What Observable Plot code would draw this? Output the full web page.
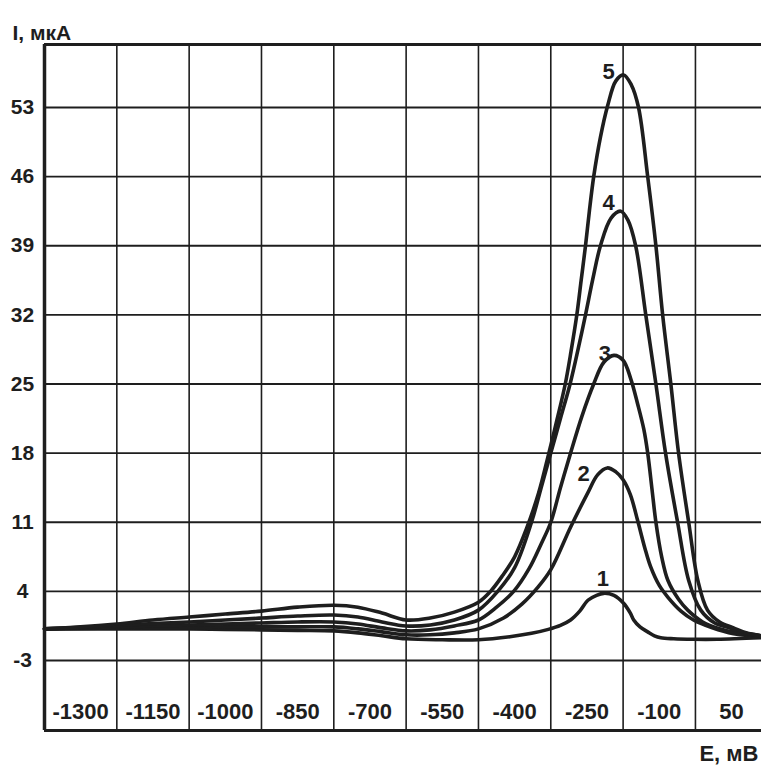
<!DOCTYPE html>
<html><head><meta charset="utf-8">
<script src="https://cdn.jsdelivr.net/npm/d3@7"></script>
<script src="https://cdn.jsdelivr.net/npm/@observablehq/plot@0.6"></script>
<style>body{margin:0;background:#fff}</style>
</head><body><div id="chart"></div>
<script>
// Tick labels / grid
const yTicks = [-3, 4, 11, 18, 25, 32, 39, 46, 53];
const xTickLabels = [-1300, -1150, -1000, -850, -700, -550, -400, -250, -100, 50];
const xGrid = [-1225, -1075, -925, -775, -625, -475, -325, -175, -25];

// Curve 1
const e1 = [-1375,-1300,-1225,-1150,-1075,-1000,-925,-850,-775,-725,-675,-625,-550,-475,-410,-365,-330,-305,-284,-265,-248,-230,-215,-194,-174,-160,-153,-140,-124,-110,-97,-70,-30,20,112];
const i1 = [0.2,0.2,0.2,0.2,0.2,0.15,0.1,0.05,0.0,-0.2,-0.5,-0.8,-0.9,-0.9,-0.6,-0.25,0.15,0.55,1.1,2.0,3.1,3.6,3.8,3.6,2.8,1.8,1.1,0.4,-0.1,-0.5,-0.7,-0.8,-0.85,-0.85,-0.7];
// Curve 2
const e2 = [-1375,-1300,-1225,-1150,-1075,-1000,-925,-850,-775,-725,-675,-625,-575,-525,-475,-423,-385,-352,-325,-284,-248,-228,-208,-190,-175,-160,-145,-130,-118,-100,-82,-55,-29,10,54,112];
const i2 = [0.2,0.25,0.3,0.35,0.35,0.4,0.4,0.4,0.4,0.2,-0.1,-0.4,-0.4,-0.2,0.2,1.3,2.7,4.4,6.2,10.5,14,15.8,16.5,16.1,15.3,13.8,11.2,8.4,6.5,4.6,3.4,2.0,1.1,0.3,-0.3,-0.6];
// Curve 3
const e3 = [-1375,-1300,-1225,-1150,-1075,-1000,-925,-850,-775,-725,-675,-625,-575,-525,-475,-440,-402,-370,-345,-325,-305,-284,-260,-236,-215,-194,-175,-159,-145,-132,-124,-115,-107,-95,-82,-60,-41,-10,21,60,112];
const i3 = [0.2,0.3,0.4,0.5,0.6,0.7,0.8,0.9,0.9,0.7,0.3,0.0,0.1,0.5,1.1,2.3,4.0,6.3,8.8,11,14.5,18,21.8,25,27.2,27.9,27.4,25.5,23,20.4,18,14.3,11,7.5,5.1,3.2,2.1,0.9,0.26,-0.2,-0.5];
// Curve 4
const e4 = [-1375,-1300,-1225,-1150,-1075,-1000,-925,-850,-775,-725,-675,-625,-575,-525,-475,-435,-400,-365,-345,-325,-305,-285,-268,-253,-238,-222,-200,-180,-165,-149,-128,-107,-87,-62,-39,-14,15,42,75,112];
const i4 = [0.2,0.35,0.55,0.75,0.9,1.1,1.3,1.5,1.6,1.4,0.9,0.5,0.6,1.1,2.1,4.0,6.4,11,14.5,18,21.5,25,28.6,32,35.6,39,41.8,42.5,41.6,39,32,25,18,11,5.1,2.1,0.8,0.36,-0.2,-0.5];
// Curve 5
const e5 = [-1375,-1300,-1225,-1150,-1075,-1000,-925,-850,-775,-725,-675,-625,-575,-525,-475,-450,-425,-400,-375,-350,-329,-312,-295,-283,-271,-262,-253,-245,-236,-222,-207,-190,-174,-158,-143,-124,-107,-93,-76,-60,-39,-20,0,25,54,80,112];
const i5 = [0.2,0.4,0.7,1.1,1.4,1.7,2.0,2.4,2.6,2.4,1.8,1.1,1.3,1.9,2.9,4.0,5.6,7.5,10.4,14.0,18,21.4,25,28.3,32,35.5,39,42.5,46,50,53.2,55.7,56.3,55.3,53,46,39,32,25,18,11,5.1,2.1,0.9,0.3,-0.2,-0.5];

// Curve number labels
const labelText = ["1", "2", "3", "4", "5"];
const labelE = [-217, -257, -213, -205, -205];
const labelI = [5.3, 15.9, 28.0, 43.3, 56.65];

const series = [[e1, i1, 1], [e2, i2, 2], [e3, i3, 3], [e4, i4, 4], [e5, i5, 5]];
const data = series.flatMap(([e, i, id]) => e.map((v, k) => ({curve: id, E: v, I: i[k]})));
const labels = labelText.map((t, k) => ({t, E: labelE[k], I: labelI[k]}));

const ink = "#1e1e1e";
const font = "Liberation Sans, Arial, sans-serif";

const chart = Plot.plot({
  width: 761,
  height: 771,
  marginLeft: 44,
  marginRight: 0,
  marginTop: 44,
  marginBottom: 41,
  style: {fontFamily: font, background: "#fff", color: ink},
  x: {domain: [-1375, 112], axis: null},
  y: {domain: [-10.09, 59.38], axis: null},
  marks: [
    Plot.ruleY(yTicks, {stroke: ink, strokeWidth: 1.8}),
    Plot.ruleX(xGrid, {stroke: ink, strokeWidth: 1.6}),
    Plot.ruleX([-1375], {stroke: ink, strokeWidth: 3.5}),
    Plot.ruleY([-10.09, 59.38], {stroke: ink, strokeWidth: 3}),
    Plot.line(data, {x: "E", y: "I", z: "curve", curve: "catmull-rom", stroke: ink, strokeWidth: 3.6}),
    Plot.text(labels, {x: "E", y: "I", text: "t", fontSize: 22, fontWeight: "bold", fill: ink}),
    Plot.text(yTicks, {y: d => d, text: d => String(d), frameAnchor: "left", dx: -22, textAnchor: "middle", fontSize: 21, fontWeight: "bold", fill: ink}),
    Plot.text(xTickLabels, {x: d => d, y: -8.2, text: d => String(d), fontSize: 22, fontWeight: "bold", fill: ink}),
    Plot.text(["I, мкА"], {frameAnchor: "top-left", dx: -32, dy: -19, textAnchor: "start", fontSize: 21, fontWeight: "bold", fill: ink, letterSpacing: "0.8px"}),
    Plot.text(["E, мВ"], {frameAnchor: "bottom-right", dx: -3, dy: 30, textAnchor: "end", fontSize: 22, fontWeight: "bold", fill: ink, letterSpacing: "2px"})
  ]
});
document.getElementById("chart").appendChild(chart);
</script>
</body></html>
